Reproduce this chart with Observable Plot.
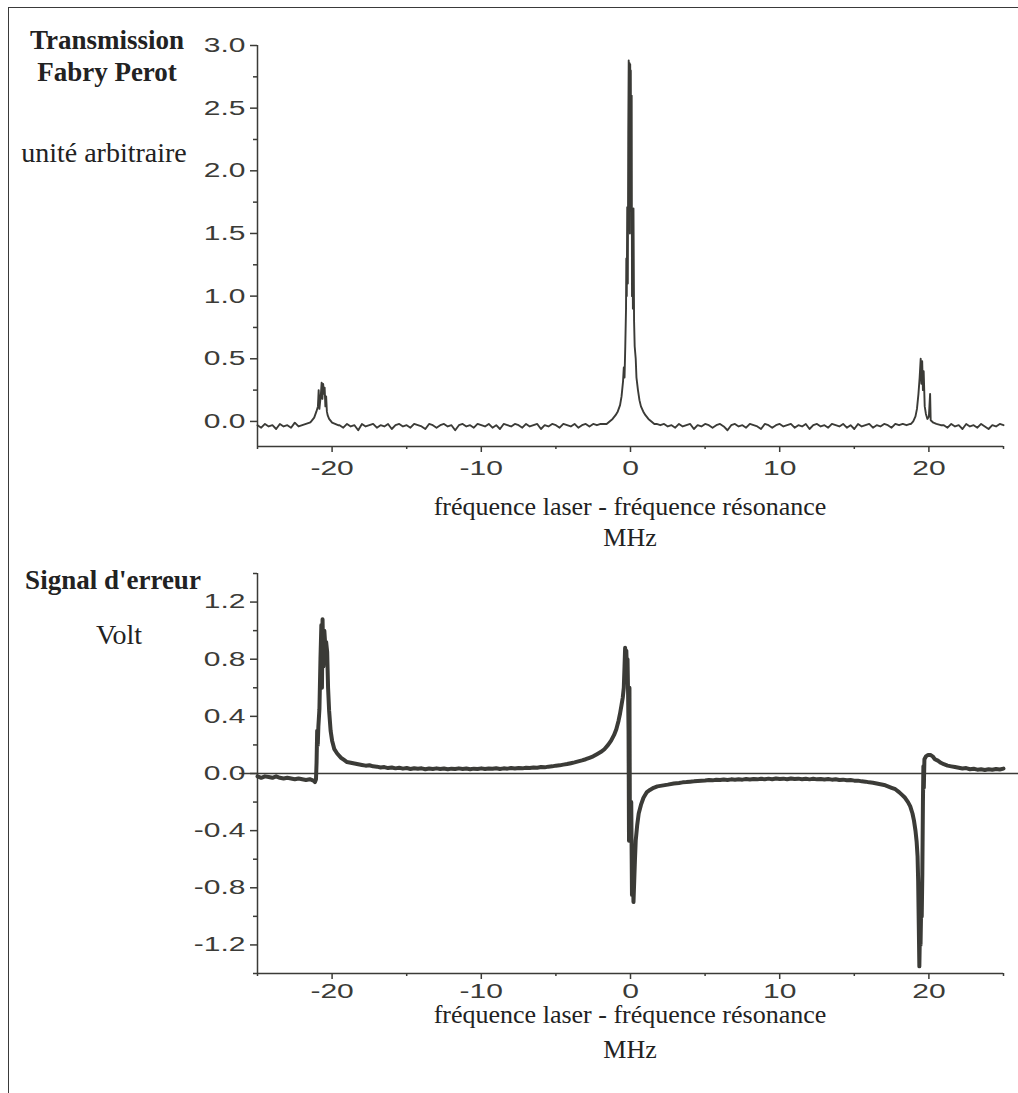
<!DOCTYPE html>
<html>
<head>
<meta charset="utf-8">
<script src="https://cdn.jsdelivr.net/npm/d3@7"></script>
<script src="https://cdn.jsdelivr.net/npm/@observablehq/plot@0.6"></script>
<style>
  html, body { margin: 0; padding: 0; background: #fff; }
  #page { position: relative; width: 1018px; height: 1093px; overflow: hidden; background: #fff; }
  #frame { position: absolute; left: 8px; top: 7px; width: 1030px; height: 1110px;
           border-left: 1.5px solid #3a3a3a; border-top: 1.5px solid #3a3a3a; }
  .plot { position: absolute; left: 0; }
  .lbl { position: absolute; white-space: nowrap; line-height: 1; color: #222;
         font-family: "Liberation Serif", "Times New Roman", serif; transform: translate(-50%, -50%); }
  .bold { font-weight: bold; font-size: 27px; }
  .reg { font-size: 28px; }
  .xl { font-size: 26px; }
</style>
</head>
<body>
<div id="page">
  <div id="frame"></div>
  <div id="topPlot" class="plot" style="top:0px"></div>
  <div id="bottomPlot" class="plot" style="top:528px"></div>
  <div class="lbl bold" style="left:107px;top:40px">Transmission</div>
  <div class="lbl bold" style="left:107px;top:72px">Fabry Perot</div>
  <div class="lbl reg" style="left:104px;top:153px">unité arbitraire</div>
  <div class="lbl xl" style="left:630px;top:507px">fréquence laser - fréquence résonance</div>
  <div class="lbl xl" style="left:630px;top:538px">MHz</div>
  <div class="lbl bold" style="left:113px;top:580px">Signal d'erreur</div>
  <div class="lbl reg" style="left:119px;top:635px">Volt</div>
  <div class="lbl xl" style="left:630px;top:1015px">fréquence laser - fréquence résonance</div>
  <div class="lbl xl" style="left:630px;top:1050px">MHz</div>
</div>
<script>
// ---------- Tick values ----------
const xTicks = [-20, -10, 0, 10, 20];
const xMinorTicks = [-25, -15, -5, 5, 15, 25];
const transTicks = [0, 0.5, 1, 1.5, 2, 2.5, 3];
const transMinorTicks = [0.25, 0.75, 1.25, 1.75, 2.25, 2.75];
const errTicks = [-1.2, -0.8, -0.4, 0, 0.4, 0.8, 1.2];
const errMinorTicks = [-1.4, -1.0, -0.6, -0.2, 0.2, 0.6, 1.0, 1.4];

// ---------- Fabry-Perot transmission (MHz, arbitrary units) ----------
const transFreq = [
  -25,-24.75,-24.5,-24.25,-24,-23.75,-23.5,-23.25,-23,-22.75,-22.5,-22.25,-22,-21.75,-21.5,
  -21.4,-21.2,-21.05,-20.95,-20.9,-20.85,-20.75,-20.7,-20.65,-20.6,-20.55,-20.5,-20.45,-20.4,-20.35,-20.3,-20.2,-20,-19.8,-19.6,
  -19.5,-19.25,-19,-18.75,-18.5,-18.25,-18,-17.75,-17.5,-17.25,-17,-16.75,
  -16.5,-16.25,-16,-15.75,-15.5,-15.25,-15,-14.75,-14.5,-14.25,-14,-13.75,
  -13.5,-13.25,-13,-12.75,-12.5,-12.25,-12,-11.75,-11.5,-11.25,-11,-10.75,
  -10.5,-10.25,-10,-9.75,-9.5,-9.25,-9,-8.75,-8.5,-8.25,-8,-7.75,
  -7.5,-7.25,-7,-6.75,-6.5,-6.25,-6,-5.75,-5.5,-5.25,-5,-4.75,
  -4.5,-4.25,-4,-3.75,-3.5,-3.25,-3,-2.75,-2.5,-2.25,-2,-1.75,
  -1.6,-1.4,-1.2,-1,-0.85,-0.7,-0.6,-0.5,-0.45,-0.4,-0.35,-0.3,-0.28,-0.25,-0.22,-0.18,-0.15,-0.12,-0.09,-0.07,-0.04,-0.02,
  0,0.02,0.05,0.08,0.1,0.13,0.16,0.2,0.24,0.28,0.35,0.4,0.5,0.6,0.7,0.85,1,1.2,1.4,1.6,
  1.75,2,2.25,2.5,2.75,3,3.25,3.5,3.75,4,4.25,4.5,
  4.75,5,5.25,5.5,5.75,6,6.25,6.5,6.75,7,7.25,7.5,
  7.75,8,8.25,8.5,8.75,9,9.25,9.5,9.75,10,10.25,10.5,
  10.75,11,11.25,11.5,11.75,12,12.25,12.5,12.75,13,13.25,13.5,
  13.75,14,14.25,14.5,14.75,15,15.25,15.5,15.75,16,16.25,16.5,
  16.75,17,17.25,17.5,17.75,18,18.25,18.5,18.75,
  18.8,18.95,19.1,19.2,19.3,19.38,19.45,19.5,19.55,19.6,19.65,19.72,19.8,19.9,20,20.08,20.12,20.3,20.5,20.8,
  21,21.25,21.5,21.75,22,22.25,22.5,22.75,23,23.25,23.5,23.75,24,24.25,24.5,24.75,25
];
const transSignal = [
  -.03,-.05,-.02,-.04,-.03,-.06,-.02,-.04,-.03,-.05,-.01,-.04,-.03,-.02,-.01,
  0,.03,.08,.12,.25,.1,.22,.31,.18,.30,.22,.27,.12,.2,.08,.05,.02,-.01,-.02,-.03,
  -.03,-.05,-.02,-.04,-.03,-.07,-.02,-.04,-.03,-.02,-.05,-.03,
  -.04,-.02,-.06,-.03,-.02,-.04,-.03,-.05,-.02,-.03,-.04,-.06,
  -.02,-.03,-.05,-.03,-.02,-.04,-.03,-.07,-.03,-.02,-.04,-.03,
  -.05,-.02,-.03,-.04,-.02,-.05,-.03,-.06,-.02,-.03,-.04,-.02,
  -.03,-.05,-.02,-.04,-.03,-.02,-.06,-.03,-.04,-.02,-.03,-.05,
  -.02,-.03,-.04,-.02,-.05,-.03,-.02,-.04,-.02,-.03,-.02,-.02,
  -.02,0,.02,.05,.08,.13,.2,.32,.43,.35,.6,.9,1.3,1.0,1.71,1.1,2.3,2.88,2.0,2.86,1.5,2.85,
  2.2,2.8,1.7,2.6,1.0,1.7,.9,1.7,.8,.6,.5,.35,.25,.17,.12,.08,.05,.02,0,-.02,
  -.02,-.03,-.02,-.04,-.03,-.05,-.02,-.04,-.03,-.02,-.06,-.03,
  -.04,-.02,-.03,-.05,-.03,-.02,-.04,-.07,-.03,-.02,-.04,-.03,
  -.05,-.02,-.03,-.04,-.06,-.02,-.03,-.05,-.03,-.02,-.04,-.03,
  -.02,-.05,-.03,-.04,-.02,-.06,-.03,-.02,-.04,-.03,-.05,-.02,
  -.03,-.04,-.02,-.05,-.03,-.06,-.02,-.04,-.03,-.02,-.05,-.03,
  -.04,-.02,-.03,-.05,-.02,-.03,-.02,-.03,-.02,
  -.02,0,.04,.1,.22,.35,.5,.3,.48,.25,.4,.12,.06,.02,.04,.22,.01,-.01,-.02,-.03,
  -.03,-.05,-.02,-.04,-.03,-.06,-.02,-.04,-.03,-.05,-.02,-.04,-.06,-.03,-.04,-.02,-.03
];

// ---------- Error signal (MHz, Volt) ----------
const errFreq = [
  -25,-24.75,-24.5,-24.25,-24,-23.75,-23.5,-23.25,-23,-22.75,-22.5,-22.25,-22,-21.75,-21.5,-21.25,
  -21.15,-21.08,-21.04,-21,-20.96,-20.92,-20.85,-20.78,-20.72,-20.68,-20.64,-20.58,-20.52,-20.46,-20.4,-20.33,-20.27,-20.2,-20.1,-20,-19.85,-19.66,-19.4,-19.2,-19,
  -18.75,-18.5,-18.25,-18,-17.75,-17.5,-17.25,-17,-16.75,-16.5,-16.25,-16,
  -15.75,-15.5,-15.25,-15,-14.75,-14.5,-14.25,-14,-13.75,-13.5,-13.25,-13,
  -12.75,-12.5,-12.25,-12,-11.75,-11.5,-11.25,-11,-10.75,-10.5,-10.25,-10,
  -9.75,-9.5,-9.25,-9,-8.75,-8.5,-8.25,-8,-7.75,-7.5,-7.25,-7,
  -6.75,-6.5,-6.25,-6,-5.75,-5.5,-5.25,-5,-4.75,-4.5,-4.25,-4,
  -3.75,
  -3.5,-3.25,-3,-2.75,-2.5,-2.25,-2,-1.75,-1.5,-1.3,-1.1,-0.95,-0.8,-0.7,-0.6,-0.52,-0.45,-0.4,-0.36,-0.32,-0.28,-0.24,-0.2,-0.16,-0.13,-0.1,-0.07,-0.04,
  0,0.05,0.1,0.15,0.2,0.25,0.3,0.35,0.45,0.55,0.7,0.87,1.1,1.3,1.55,1.8,2.1,2.5,2.9,
  3.25,3.5,3.75,4,4.25,4.5,4.75,5,5.25,5.5,5.75,6,
  6.25,6.5,6.75,7,7.25,7.5,7.75,8,8.25,8.5,8.75,9,
  9.25,9.5,9.75,10,10.25,10.5,10.75,11,11.25,11.5,11.75,12,
  12.25,12.5,12.75,13,13.25,13.5,13.75,14,14.25,14.5,14.75,15,
  15.25,15.5,15.75,16,
  16.25,16.5,16.75,17,17.25,17.5,17.75,18,18.2,18.4,18.6,18.75,18.9,19,19.1,19.18,19.24,19.28,19.32,19.36,19.4,19.44,19.48,19.52,19.56,19.6,19.63,19.66,19.7,19.8,19.95,
  20.1,20.25,20.4,20.6,20.8,21,21.25,21.5,21.75,22,22.25,22.5,22.75,23,23.25,23.5,23.75,24,24.25,24.5,24.75,25
];
const errSignal = [
  -.02,-.03,-.02,-.025,-.03,-.02,-.03,-.035,-.03,-.035,-.04,-.035,-.04,-.045,-.04,-.05,
  -.06,-.04,.08,.3,.2,.33,.45,.8,1.04,.6,1.08,.75,1.0,.9,.92,.85,.6,.44,.3,.23,.17,.14,.11,.095,.08,
  .075,.07,.065,.06,.055,.058,.05,.048,.042,.045,.038,.042,
  .036,.04,.034,.038,.032,.037,.033,.036,.03,.035,.032,.036,
  .031,.035,.03,.034,.031,.036,.032,.035,.03,.034,.032,.036,
  .031,.035,.033,.037,.032,.036,.034,.038,.035,.039,.036,.04,
  .038,.042,.04,.045,.043,.048,.05,.055,.057,.062,.066,.072,
  .078,
  .085,.092,.1,.11,.12,.135,.15,.17,.2,.23,.27,.31,.37,.42,.48,.53,.6,.75,.88,.8,.86,.72,.8,.55,.3,-.47,.6,-.4,
  -.46,-.2,-.85,-.65,-.9,-.75,-.6,-.47,-.36,-.28,-.22,-.17,-.13,-.115,-.1,-.09,-.085,-.078,-.07,
  -.066,-.062,-.06,-.057,-.055,-.052,-.05,-.049,-.046,-.048,-.044,-.046,
  -.042,-.045,-.041,-.044,-.04,-.043,-.039,-.042,-.038,-.041,-.037,-.04,
  -.036,-.04,-.035,-.039,-.036,-.04,-.035,-.039,-.036,-.04,-.037,-.041,
  -.037,-.041,-.038,-.042,-.039,-.043,-.04,-.045,-.043,-.047,-.046,-.05,
  -.05,-.055,-.057,-.062,
  -.065,-.07,-.075,-.08,-.09,-.1,-.11,-.13,-.15,-.17,-.2,-.23,-.28,-.33,-.4,-.48,-.58,-.75,-1.05,-1.35,-1.1,-1.2,-.95,-1.0,-.7,-.2,.05,-.1,.1,.12,.13,
  .13,.12,.1,.09,.075,.065,.055,.05,.045,.04,.035,.038,.03,.033,.027,.03,.025,.03,.026,.032,.028,.034
];

if (transFreq.length !== transSignal.length) console.error("trans length mismatch", transFreq.length, transSignal.length);
if (errFreq.length !== errSignal.length) console.error("err length mismatch", errFreq.length, errSignal.length);

const transData = transFreq.map((f, i) => ({f, v: transSignal[i]}));
const errData = errFreq.map((f, i) => ({f, v: errSignal[i]}));

const ink = "#3b3b37";
const plotStyle = {
  fontFamily: "'Liberation Sans', Arial, sans-serif",
  fontSize: "20px",
  color: ink,
  background: "transparent",
  overflow: "visible"
};

function axesMarks(yMin, majorY, minorY, fmtY, xPad) {
  return [
    Plot.ruleX([-25], {stroke: ink, strokeWidth: 1.5}),
    Plot.ruleY([yMin], {stroke: ink, strokeWidth: 1.5}),
    Plot.axisX({ticks: xTicks, tickSize: 6, tickPadding: xPad, tickFormat: d => String(d), label: null, strokeWidth: 1.5}),
    Plot.axisX({ticks: xMinorTicks, tickSize: 3, tickFormat: () => "", label: null, strokeWidth: 1.5}),
    Plot.axisY({ticks: majorY, tickSize: 7, tickPadding: 5, tickFormat: fmtY, label: null, strokeWidth: 1.5}),
    Plot.axisY({ticks: minorY, tickSize: 4, tickFormat: () => "", label: null, strokeWidth: 1.5})
  ];
}

const topChart = Plot.plot({
  width: 1018, height: 510,
  marginLeft: 257, marginRight: 15, marginTop: 45, marginBottom: 64,
  style: plotStyle,
  x: {domain: [-25, 25]},
  y: {domain: [-0.2, 3.0]},
  marks: [
    ...axesMarks(-0.2, transTicks, transMinorTicks, d => d.toFixed(1), 8),
    Plot.line(transData, {x: "f", y: "v", stroke: ink, strokeWidth: 1.9})
  ]
});

const bottomChart = Plot.plot({
  width: 1018, height: 510,
  marginLeft: 257, marginRight: 15, marginTop: 45, marginBottom: 65,
  style: plotStyle,
  x: {domain: [-25, 25]},
  y: {domain: [-1.4, 1.4]},
  marks: [
    ...axesMarks(-1.4, errTicks, errMinorTicks, d => d.toFixed(1), 4),
    Plot.ruleY([0], {x1: -26.2, x2: 26.2, stroke: ink, strokeWidth: 1.5}),
    Plot.line(errData, {x: "f", y: "v", stroke: ink, strokeWidth: 4})
  ]
});

document.getElementById("topPlot").appendChild(topChart);
document.getElementById("bottomPlot").appendChild(bottomChart);

// the sans-serif tick numerals of the original are drawn wide: stretch them horizontally
for (const svg of [topChart, bottomChart]) {
  svg.querySelectorAll("text").forEach(t => {
    if (!t.textContent) return;
    const w = t.getComputedTextLength();
    t.setAttribute("textLength", (w * 1.5).toFixed(1));
    t.setAttribute("lengthAdjust", "spacingAndGlyphs");
  });
}
</script>
</body>
</html>
